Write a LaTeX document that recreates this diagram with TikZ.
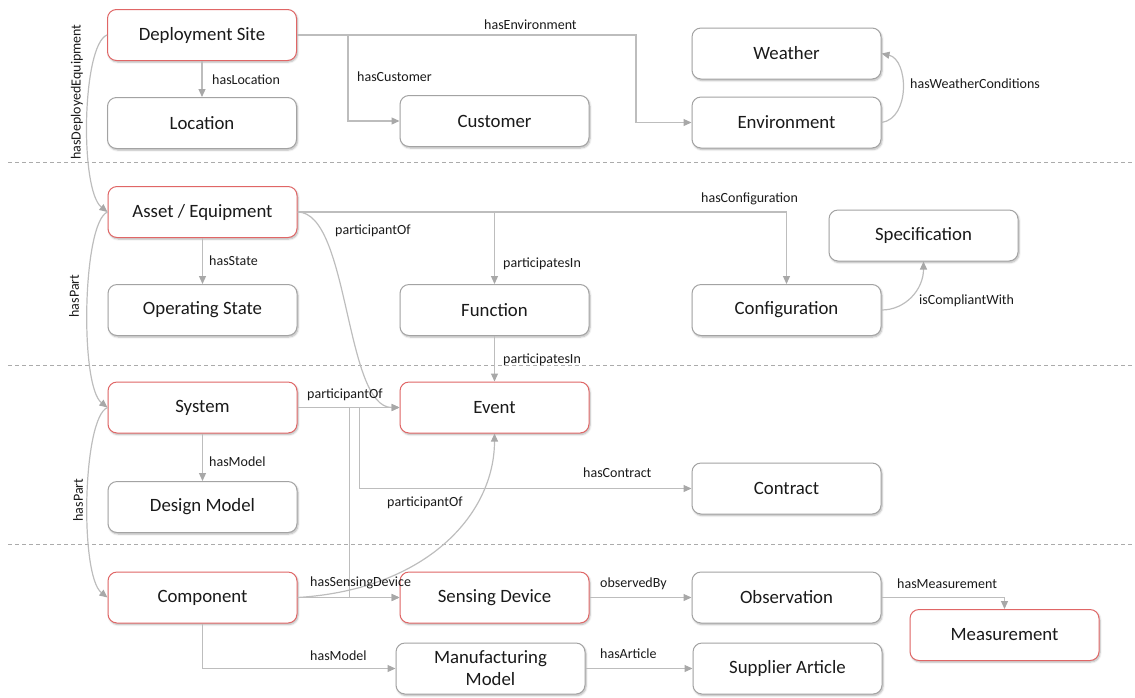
\documentclass[tikz,border=0pt]{standalone}
\usepackage{fontspec}
\setmainfont{Carlito}
\usetikzlibrary{arrows.meta,shadows.blur}

\definecolor{boxline}{HTML}{A3A3A3}
\definecolor{keyline}{HTML}{E06666}
\definecolor{linkgray}{HTML}{BDBDBD}
\definecolor{tipgray}{HTML}{A8A8A8}
\definecolor{sepgray}{HTML}{ABABAB}
\definecolor{ink}{HTML}{1A1A1A}

\tikzset{
  cls/.style={draw=boxline, line width=1pt, rounded corners=9pt, fill=white,
    minimum width=189pt, minimum height=51pt, inner sep=0pt, align=center,
    font=\fontsize{18.8}{22}\selectfont, text=ink,
    blur shadow={shadow xshift=1pt, shadow yshift=-1.5pt,
      shadow blur steps=6, shadow opacity=30}},
  keycls/.style={cls, draw=keyline},
  link/.style={draw=linkgray, line width=1.2pt,
    -{Triangle[length=8pt,width=7pt,color=tipgray]}},
  lbl/.style={font=\fontsize{14}{16}\selectfont, text=ink, inner sep=0pt, anchor=west},
  vlbl/.style={lbl, anchor=center, rotate=90},
  sep/.style={draw=sepgray, line width=0.9pt, dash pattern=on 4pt off 3pt}
}

\begin{document}
\begin{tikzpicture}[x=1pt, y=-1pt]
  \useasboundingbox (0,0) rectangle (1135,697);

  % layer separators
  \draw[sep] (8,162) -- (1135,162);
  \draw[sep] (8,365) -- (1135,365);
  \draw[sep] (8,544) -- (1135,544);

  % classes
  \node[keycls] (site)    at (202,35)     {Deployment Site};
  \node[cls]    (loc)     at (202,123)    {Location};
  \node[cls]    (cust)    at (494.5,121)  {Customer};
  \node[cls]    (weather) at (786.5,53.5) {Weather};
  \node[cls]    (env)     at (786.5,122.5){Environment};

  \node[keycls] (asset)   at (202.5,212)  {Asset / Equipment};
  \node[cls]    (opstate) at (202.5,310)  {Operating State};
  \node[cls]    (func)    at (494.5,310)  {Function};
  \node[cls]    (config)  at (786.5,310)  {Configuration};
  \node[cls]    (spec)    at (923.5,235.5){Specification};

  \node[keycls] (sys)     at (202.5,407.5){System};
  \node[keycls] (event)   at (494.5,407.5){Event};
  \node[cls]    (design)  at (202.5,507)  {Design Model};
  \node[cls]    (contract)at (786.5,488.5){Contract};

  \node[keycls] (comp)    at (202.5,597.5){Component};
  \node[keycls] (sens)    at (494.5,597.5){Sensing Device};
  \node[cls]    (obs)     at (786.5,597.5){Observation};
  \node[keycls] (meas)    at (1004.5,635) {Measurement};
  \node[cls]    (mfg)     at (490.5,668.5){Manufacturing\\Model};
  \node[cls]    (supp)    at (787.5,668.5){Supplier Article};

  % relations of the deployment layer
  \draw[link] (site.south) -- (site.south |- loc.north);
  \draw[link] (site.east) -- ++(339,0) |- (env.west);
  \draw[link] (site.east) -- ++(51,0) |- (cust.west);
  \draw[link] (site.west) .. controls +(-25,10) and +(-28,-22) .. (asset.west);
  \draw[link] (env.east) .. controls +(29,-4) and +(27,6) .. (weather.east);

  % relations of the asset layer
  \draw[link] (asset.east) -| (config.north);
  \draw[link] (asset.east -| func.north) -- (func.north);
  \draw[link] (asset.east) .. controls +(52,0) and +(-55,0) .. (event.west);
  \draw[link] (asset.south) -- (opstate.north);
  \draw[link] (asset.west) .. controls +(-25,10) and +(-28,-22) .. (sys.west);
  \draw[link] (func.south) -- (event.north);
  \draw[link] (config.east) .. controls +(24,0) and +(0,28) .. (spec.south);

  % relations of the system layer
  \draw[link] (sys.east) -- (event.west);
  \draw[link] (sys.east) -- ++(52,0) |- (sens.west);
  \draw[link] (sys.east) -- ++(62,0) |- (contract.west);
  \draw[link] (sys.south) -- (design.north);
  \draw[link] (sys.west) .. controls +(-25,10) and +(-28,-22) .. (comp.west);

  % relations of the component layer
  \draw[link] (comp.east) -- (sens.west);
  \draw[link] (comp.east) .. controls +(130,-8) and +(0,80) .. (event.south);
  \draw[link] (comp.south) |- (mfg.west);
  \draw[link] (sens.east) -- (obs.west);
  \draw[link] (obs.east) -| (meas.north);
  \draw[link] (mfg.east) -- (supp.west);

  % relation labels
  \node[lbl]  (lLoc)   at (212,80)  {hasLocation};
  \node[lbl]  (lCust)  at (357,77)  {hasCustomer};
  \node[lbl]  (lEnv)   at (484,25)  {hasEnvironment};
  \node[lbl]  (lWx)    at (910,84)  {hasWeatherConditions};
  \node[vlbl] (lDep)   at (77,92)   {hasDeployedEquipment};
  \node[lbl]  (lConf)  at (701,199) {hasConfiguration};
  \node[lbl]  (lPartA) at (335,231) {participantOf};
  \node[lbl]  (lPinF)  at (503,264) {participatesIn};
  \node[lbl]  (lState) at (209,261) {hasState};
  \node[vlbl] (lHasP1) at (74,296)  {hasPart};
  \node[lbl]  (lComp)  at (919,301) {isCompliantWith};
  \node[lbl]  (lPinE)  at (503,360) {participatesIn};
  \node[lbl]  (lPartS) at (307,395) {participantOf};
  \node[lbl]  (lModS)  at (209,462) {hasModel};
  \node[vlbl] (lHasP2) at (78,500)  {hasPart};
  \node[lbl]  (lContr) at (583,473) {hasContract};
  \node[lbl]  (lPartC) at (387,503) {participantOf};
  \node[lbl]  (lSens)  at (310,583) {hasSensingDevice};
  \node[lbl]  (lObs)   at (600,584) {observedBy};
  \node[lbl]  (lModC)  at (310,656) {hasModel};
  \node[lbl]  (lArt)   at (600,654) {hasArticle};
  \node[lbl]  (lMeas)  at (897,584) {hasMeasurement};
\end{tikzpicture}
\end{document}
